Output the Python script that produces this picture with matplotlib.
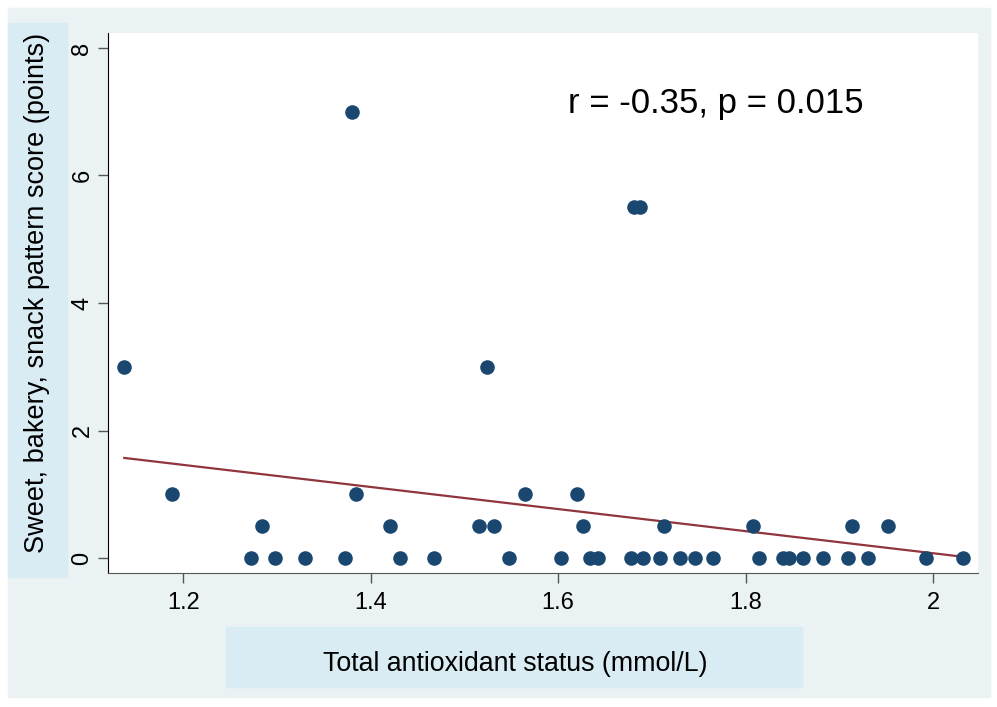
import numpy as np
import matplotlib.pyplot as plt
from matplotlib.patches import Rectangle

plt.rcParams['font.family'] = ['Liberation Sans', 'DejaVu Sans']

# total antioxidant status (mmol/L) and sweet/bakery/snack score
tas_0 = [1.272, 1.298, 1.330, 1.372, 1.431, 1.468, 1.547, 1.603, 1.634, 1.643,
         1.678, 1.691, 1.709, 1.730, 1.746, 1.765, 1.814, 1.840, 1.846, 1.861,
         1.883, 1.909, 1.931, 1.992, 2.032]
tas_05 = [1.284, 1.420, 1.516, 1.532, 1.626, 1.713, 1.808, 1.914, 1.952]
tas_1 = [1.188, 1.384, 1.565, 1.620]
tas_3 = [1.137, 1.524]
tas_55 = [1.681, 1.687]
tas_7 = [1.380]

tas = np.array(tas_0 + tas_05 + tas_1 + tas_3 + tas_55 + tas_7)
score = np.array([0]*len(tas_0) + [0.5]*len(tas_05) + [1]*len(tas_1)
                 + [3]*len(tas_3) + [5.5]*len(tas_55) + [7]*len(tas_7))

# fitted line
fit_slope = -1.732
fit_icpt = 3.539

fig = plt.figure(figsize=(9.97, 7.07), dpi=100)
fig.patch.set_facecolor('white')

# stata-like background panels
W, H = 997, 707
def box(x0, y0, x1, y1, color):
    fig.patches.append(Rectangle((x0/W, 1-y1/H), (x1-x0)/W, (y1-y0)/H,
                                 transform=fig.transFigure, color=color, zorder=-5))
box(8, 8, 990, 697, '#eaf2f3')
box(8, 23, 67, 577, '#d9ebf3')
box(226, 627, 802, 687, '#d9ebf3')

ax = fig.add_axes([108/W, 1-573/H, (978-108)/W, (573-33)/H])
ax.set_facecolor('white')

ax.scatter(tas, score, s=110, color='#1a476f', zorder=3, linewidths=0)

xs = np.array([tas.min(), tas.max()])
ax.plot(xs, fit_icpt + fit_slope*xs, color='#90353b', lw=1.6, zorder=2)

ax.set_xlim(1.1196, 2.048)
ax.set_ylim(-0.235, 8.235)
ax.set_xticks([1.2, 1.4, 1.6, 1.8, 2.0])
ax.set_xticklabels(['1.2', '1.4', '1.6', '1.8', '2'])
ax.set_yticks([0, 2, 4, 6, 8])
ax.tick_params(axis='both', labelsize=17, length=7, width=1, color='#555555', direction='out')
ax.tick_params(axis='x', pad=7)
plt.setp(ax.get_yticklabels(), rotation=90, va='center')

for s in ['top', 'right']:
    ax.spines[s].set_visible(False)
ax.spines['left'].set_color('black')
ax.spines['bottom'].set_color('#555555')

ax.text((716-108)/870, (573-103)/540, 'r = -0.35, p = 0.015', transform=ax.transAxes,
        fontsize=25, ha='center', va='center')

fig.text(37/W, 1-293/H, 'Sweet, bakery, snack pattern score (points)',
         rotation=90, ha='center', va='center', fontsize=19.5)
fig.text(515/W, 1-664/H, 'Total antioxidant status (mmol/L)',
         ha='center', va='center', fontsize=19.3)

fig.savefig('out.png', dpi=100)
